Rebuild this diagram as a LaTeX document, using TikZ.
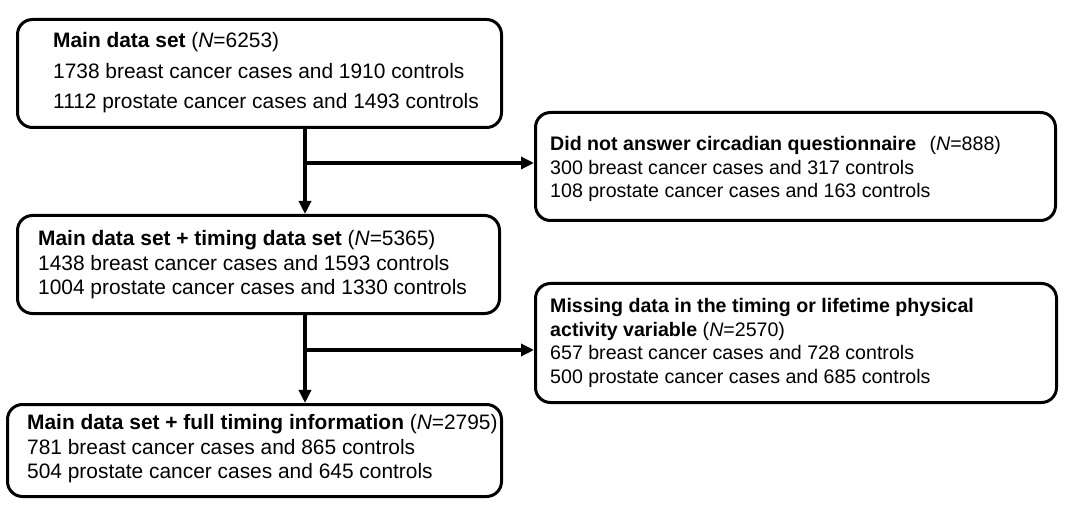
\documentclass[tikz,border=0pt]{standalone}
\usepackage{fontspec}
\setmainfont{Liberation Sans}
\usetikzlibrary{arrows.meta}
\begin{document}
\begin{tikzpicture}[x=1bp,y=-1bp,
  box/.style={draw, line width=3bp, rounded corners=15bp, anchor=north west, inner sep=0pt},
  ltext/.style={anchor=west, align=left, inner sep=0pt, font=\fontsize{20.9bp}{24.5bp}\selectfont},
  rtext/.style={anchor=west, align=left, inner sep=0pt, font=\fontsize{19.6bp}{23.5bp}\selectfont},
  arr/.style={line width=3.8bp, -{Triangle[length=13bp,width=12bp]}}]
\useasboundingbox[fill=white] (0,0) rectangle (1080,512);
% boxes
\node[box, minimum width=484bp, minimum height=108bp] (b1) at (16,18) {};
\node[box, minimum width=520bp, minimum height=108bp] (b2) at (534,111) {};
\node[box, minimum width=482bp, minimum height=98bp] (b3) at (16,214) {};
\node[box, minimum width=521bp, minimum height=119bp] (b4) at (534,282) {};
\node[box, minimum width=494bp, minimum height=92bp] (b5) at (6,403) {};
% texts
\node[ltext] (t1) at (53,73) {\textbf{Main data set} (\textit{N}=6253)\\[6bp]
1738 breast cancer cases and 1910 controls\\[6bp]
1112 prostate cancer cases and 1493 controls};
\node[rtext] (t2) at (550,169) {\textbf{Did not answer circadian questionnaire}\hspace{8bp} (\textit{N}=888)\\
300 breast cancer cases and 317 controls\\
108 prostate cancer cases and 163 controls};
\node[ltext] (t3) at (38,265) {\textbf{Main data set + timing data set} (\textit{N}=5365)\\
1438 breast cancer cases and 1593 controls\\
1004 prostate cancer cases and 1330 controls};
\node[rtext] (t4) at (550,343) {\textbf{Missing data in the timing or lifetime physical}\\
\textbf{activity variable} (\textit{N}=2570)\\
657 breast cancer cases and 728 controls\\
500 prostate cancer cases and 685 controls};
\node[ltext] (t5) at (27,449) {\textbf{Main data set + full timing information} (\textit{N}=2795)\\
781 breast cancer cases and 865 controls\\
504 prostate cancer cases and 645 controls};
% connectors
\coordinate (j1) at (305,163);
\coordinate (j2) at (305,350);
\draw[arr] (j1 |- b1.south) -- (j1 |- b3.north);
\draw[arr] (j1) -- (j1 -| b2.west);
\draw[arr] (j2 |- b3.south) -- (j2 |- b5.north);
\draw[arr] (j2) -- (j2 -| b4.west);
\end{tikzpicture}
\end{document}
